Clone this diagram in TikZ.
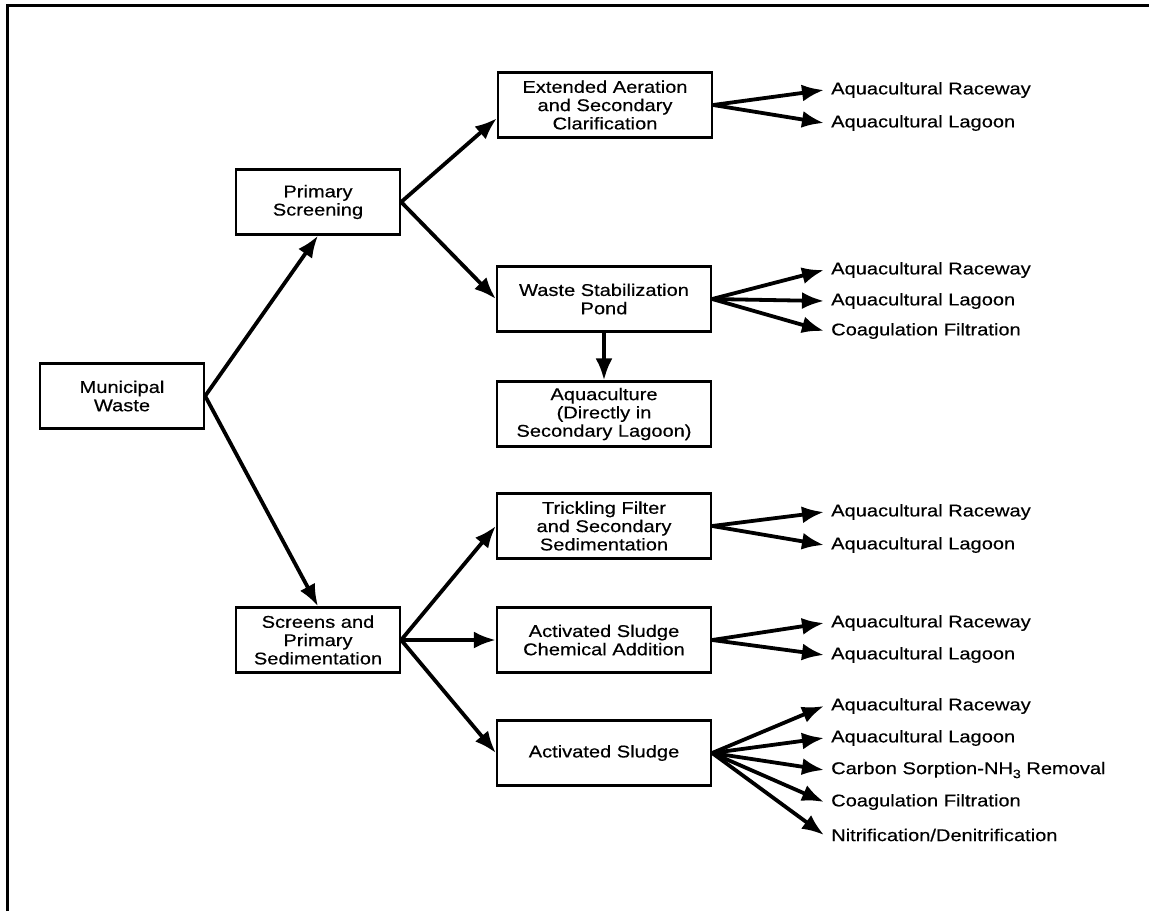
\documentclass[tikz,border=0pt]{standalone}
\usepackage{fontspec}
\setmainfont{Liberation Sans}[FakeStretch=1.18,FakeBold=0.4]
\usetikzlibrary{arrows.meta}
\begin{document}
\begin{tikzpicture}[x=1pt,y=-1pt,
  txt/.style={font=\fontsize{17}{18.3}\selectfont},
  box/.style={txt, draw, line width=2.3pt, align=center, inner sep=0pt, minimum height=65pt},
  sbox/.style={box, minimum width=164pt},
  wbox/.style={box, minimum width=214pt},
  lbl/.style={txt, anchor=west, inner xsep=7pt, inner ysep=0pt},
  arr/.style={line width=3.8pt, -{Latex[length=22pt,width=17pt]}},
  frame/.style={line width=3pt}]
\useasboundingbox (0,0) rectangle (1149,911);
% frame
\coordinate (ftl) at (7,5);
\coordinate (ftr) at (1149,5);
\coordinate (fbl) at (7,911);
\draw[frame] (fbl) -- (ftl) -- (ftr);
% boxes
\node[sbox] (mw)  at (122,396) {Municipal\\Waste};
\node[sbox] (ps)  at (318,202) {Primary\\Screening};
\node[sbox] (sps) at (318,640) {Screens and\\Primary\\Sedimentation};
\node[wbox] (ea)  at (605,105) {Extended Aeration\\and Secondary\\Clarification};
\node[wbox] (wsp) at (604,299) {Waste Stabilization\\Pond};
\node[wbox] (aq)  at (604,414) {Aquaculture\\(Directly in\\Secondary Lagoon)};
\node[wbox] (tf)  at (604,526) {Trickling Filter\\and Secondary\\Sedimentation};
\node[wbox] (asc) at (604,640) {Activated Sludge\\Chemical Addition};
\node[wbox] (as)  at (604,753) {Activated Sludge};
% output labels
\node[lbl] (ea1) at (824,90)  {Aquacultural Raceway};
\node[lbl] (ea2) at (824,123) {Aquacultural Lagoon};
\node[lbl] (w1) at (824,270) {Aquacultural Raceway};
\node[lbl] (w2) at (824,301) {Aquacultural Lagoon};
\node[lbl] (w3) at (824,331) {Coagulation Filtration};
\node[lbl] (t1) at (824,512) {Aquacultural Raceway};
\node[lbl] (t2) at (824,545) {Aquacultural Lagoon};
\node[lbl] (c1) at (824,623) {Aquacultural Raceway};
\node[lbl] (c2) at (824,655) {Aquacultural Lagoon};
\node[lbl] (a1) at (824,706) {Aquacultural Raceway};
\node[lbl] (a2) at (824,738) {Aquacultural Lagoon};
\node[lbl] (a3) at (824,770) {Carbon Sorption-NH\raisebox{-4pt}{\fontsize{12}{12}\selectfont 3} Removal};
\node[lbl] (a4) at (824,802) {Coagulation Filtration};
\node[lbl] (a5) at (824,835) {Nitrification/Denitrification};
% connectors
\draw[arr] (mw.east) -- (ps.south);
\draw[arr] (mw.east) -- (sps.north);
\draw[arr] (ps.east) -- (ea.187);
\draw[arr] (ps.east) -- (wsp.west);
\draw[arr] (wsp.south) -- (aq.north);
\draw[arr] (sps.east) -- (tf.west);
\draw[arr] (sps.east) -- (asc.west);
\draw[arr] (sps.east) -- (as.west);
\foreach \t in {ea1,ea2} \draw[arr] (ea.east) -- (\t.west);
\foreach \t in {w1,w2,w3} \draw[arr] (wsp.east) -- (\t.west);
\foreach \t in {t1,t2} \draw[arr] (tf.east) -- (\t.west);
\foreach \t in {c1,c2} \draw[arr] (asc.east) -- (\t.west);
\foreach \t in {a1,a2,a3,a4,a5} \draw[arr] (as.east) -- (\t.west);
\end{tikzpicture}
\end{document}
